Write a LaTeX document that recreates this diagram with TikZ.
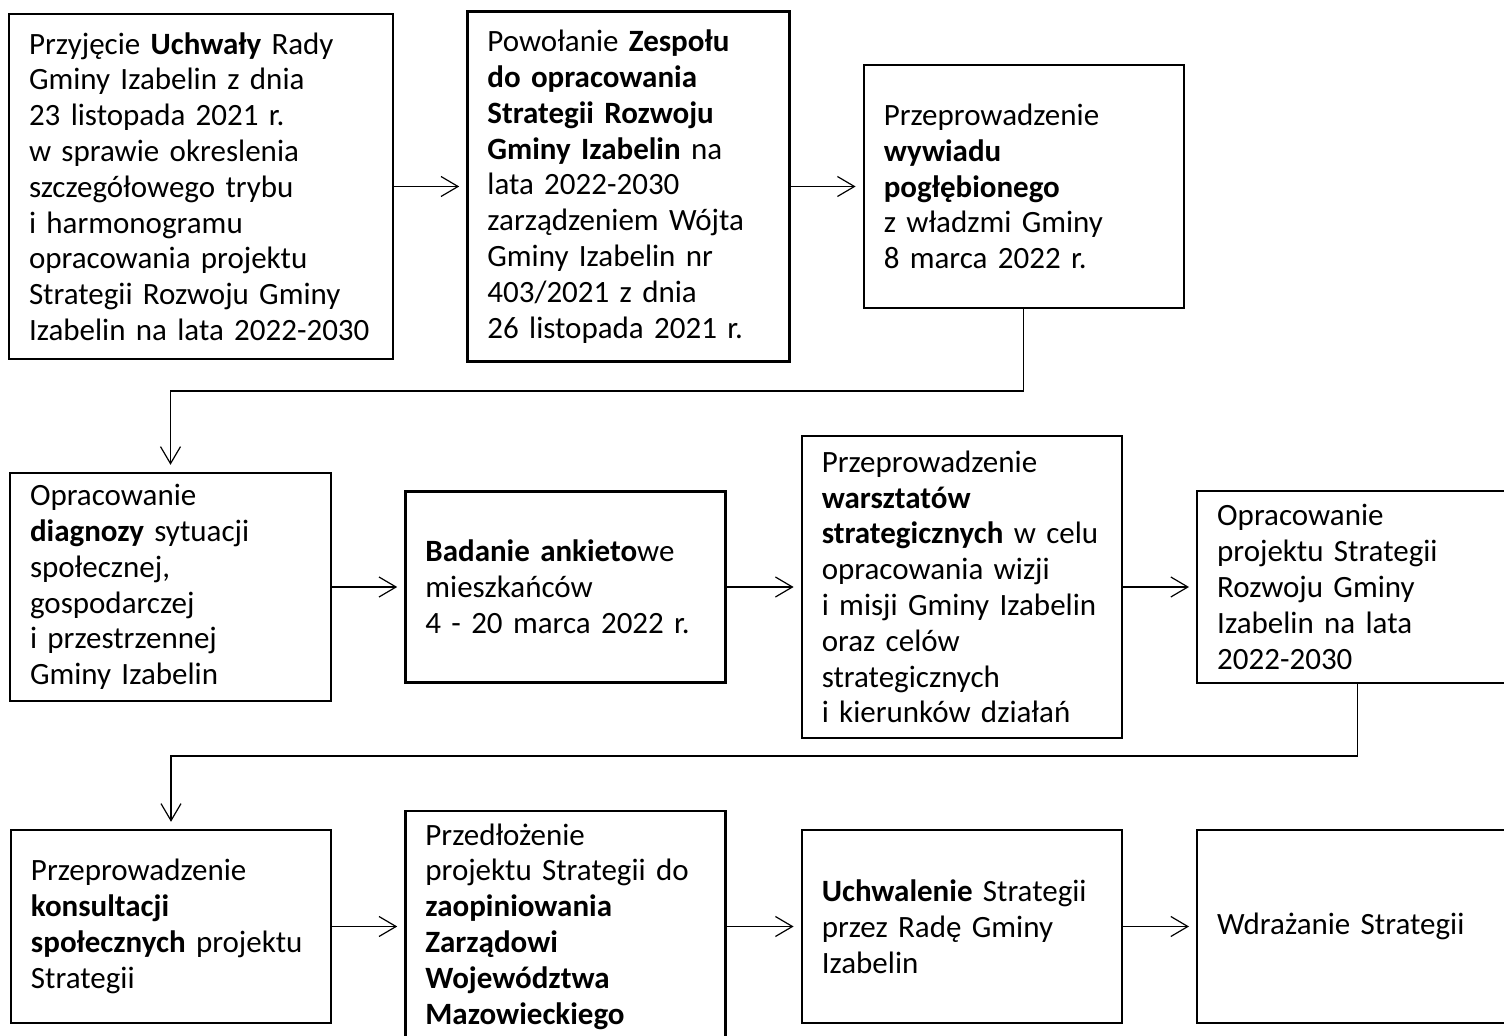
\documentclass[tikz,border=0pt]{standalone}
\usepackage{fontspec}
\setmainfont{Carlito}
\usepackage{tikz}
\usetikzlibrary{arrows.meta}
\usetikzlibrary{positioning}

\begin{document}
\begin{tikzpicture}[x=0.5pt,y=-0.5pt,
    box/.style={draw,line width=1.2pt,align=left,inner xsep=10pt,inner ysep=0pt,
      text width=140pt,minimum height=#1,font=\fontsize{15.5}{17.9}\selectfont},
    conn/.style={line width=0.6pt,-{Straight Barb[length=8.5pt,width=10pt]},shorten >=3.5pt}]
  \useasboundingbox (0,0) rectangle (1504,1036);
  \clip (0,0) rectangle (1504,1036);

  \node [box=172.5pt,text width=172pt] (uchwala) at (201,186.5) {Przyjęcie \textbf{Uchwały} Rady\\
    Gminy Izabelin z dnia\\
    23 listopada 2021 r.\\
    w sprawie okreslenia\\
    szczegółowego trybu\\
    i harmonogramu\\
    opracowania projektu\\
    Strategii Rozwoju Gminy\\
    Izabelin na lata 2022-2030};
  \node [box=175pt,text width=141pt,right=36pt of uchwala] (zespol) {Powołanie \textbf{Zespołu}\\
    \textbf{do opracowania}\\
    \textbf{Strategii Rozwoju}\\
    \textbf{Gminy Izabelin} na\\
    lata 2022-2030\\
    zarządzeniem Wójta\\
    Gminy Izabelin nr\\
    403/2021 z dnia\\
    26 listopada 2021 r.};
  \node [box=121.5pt,right=36pt of zespol] (wywiad) {Przeprowadzenie\\
    \textbf{wywiadu}\\
    \textbf{pogłębionego}\\
    z władzmi Gminy\\
    8 marca 2022 r.};

  \node [box=114pt,text width=140.5pt] (diagnoza) at (170.5,587) {Opracowanie\\
    \textbf{diagnozy} sytuacji\\
    społecznej,\\
    gospodarczej\\
    i przestrzennej\\
    Gminy Izabelin};
  \node [box=95.5pt,right=36pt of diagnoza] (ankieta) {\textbf{Badanie ankieto}we\\
    mieszkańców\\
    4 - 20 marca 2022 r.};
  \node [box=151pt,right=37pt of ankieta] (warsztaty) {Przeprowadzenie\\
    \textbf{warsztatów}\\
    \textbf{strategicznych} w celu\\
    opracowania wizji\\
    i misji Gminy Izabelin\\
    oraz celów\\
    strategicznych\\
    i kierunków działań};
  \node [box=96pt,right=36.5pt of warsztaty] (projekt) {Opracowanie\\
    projektu Strategii\\
    Rozwoju Gminy\\
    Izabelin na lata\\
    2022-2030};

  \node [box=96.5pt] (konsultacje) at (171,926.5) {Przeprowadzenie\\
    \textbf{konsultacji}\\
    \textbf{społecznych} projektu\\
    Strategii};
  \node [box=115.5pt,right=36pt of konsultacje] (opinia) {Przedłożenie\\
    projektu Strategii do\\
    \textbf{zaopiniowania}\\
    \textbf{Zarządowi}\\
    \textbf{Województwa}\\
    \textbf{Mazowieckiego}};
  \node [box=96.5pt,right=37pt of opinia] (uchwalenie) {\textbf{Uchwalenie} Strategii\\
    przez Radę Gminy\\
    Izabelin};
  \node [box=96.5pt,right=36.5pt of uchwalenie] (wdrazanie) {Wdrażanie Strategii};

  \coordinate (bend_1) at (600,391);
  \coordinate (bend_2) at (600,756);

  \path [conn]
    (uchwala.east) edge (zespol.west)
    (zespol.east) edge (wywiad.west)
    (diagnoza.east) edge (ankieta.west)
    (ankieta.east) edge (warsztaty.west)
    (warsztaty.east) edge (projekt.west)
    (konsultacje.east) edge (opinia.west)
    (opinia.east) edge (uchwalenie.west)
    (uchwalenie.east) edge (wdrazanie.west);

  \draw [conn] (wywiad.south) |- (bend_1) -| (diagnoza.north);
  \draw [conn] (projekt.south) |- (bend_2) -| (konsultacje.north);

\end{tikzpicture}
\end{document}
